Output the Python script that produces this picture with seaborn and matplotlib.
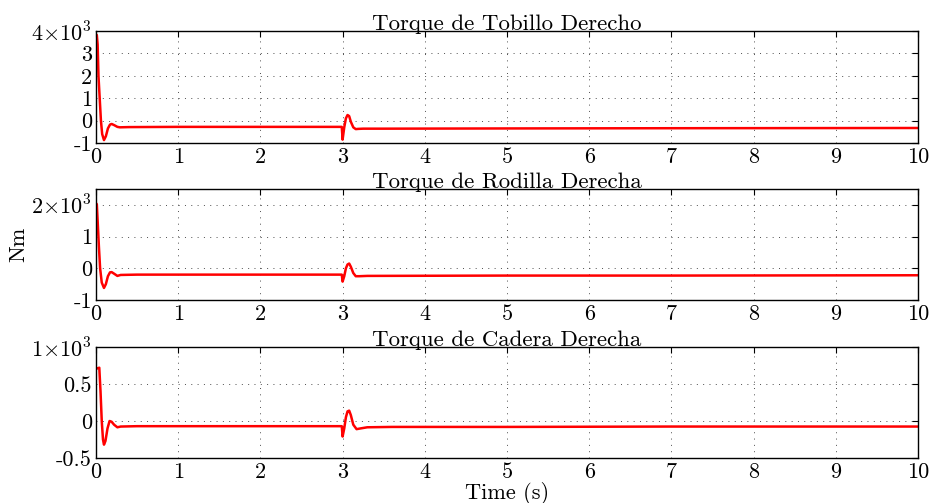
import numpy as np
import pandas as pd
import matplotlib
matplotlib.use("Agg")
import matplotlib.pyplot as plt
import seaborn as sns

# Joint torque samples (time in s, torque in units of 10^3 Nm)
t_ankle = [0.0, 0.01, 0.02, 0.03, 0.045, 0.06, 0.075, 0.097, 0.12, 0.145, 0.17, 0.19,
           0.22, 0.26, 0.29, 0.4, 1.0, 2.0, 2.99, 3.0, 3.02, 3.04, 3.06, 3.08, 3.1,
           3.13, 3.16, 3.19, 3.25, 3.5, 5.0, 7.0, 10.0]
v_ankle = [3.8, 3.82, 3.4, 2.0, 1.0, 0.0, -0.6, -0.87, -0.7, -0.35, -0.18, -0.15,
           -0.2, -0.28, -0.3, -0.29, -0.28, -0.28, -0.28, -0.85, -0.3, 0.1, 0.25, 0.2,
           -0.05, -0.3, -0.38, -0.37, -0.36, -0.36, -0.35, -0.34, -0.33]

t_knee = [0.0, 0.01, 0.02, 0.035, 0.05, 0.07, 0.097, 0.12, 0.145, 0.17, 0.19,
          0.22, 0.26, 0.3, 0.5, 1.0, 2.0, 2.99, 3.0, 3.02, 3.04, 3.06, 3.08, 3.1,
          3.13, 3.16, 3.2, 3.3, 5.0, 7.0, 10.0]
v_knee = [2.05, 2.02, 1.5, 0.7, 0.0, -0.45, -0.62, -0.5, -0.25, -0.13, -0.12,
          -0.17, -0.24, -0.21, -0.2, -0.2, -0.2, -0.2, -0.42, -0.25, 0.0, 0.12, 0.15,
          0.05, -0.15, -0.25, -0.25, -0.24, -0.23, -0.23, -0.22]

t_hip = [0.0, 0.01, 0.04, 0.055, 0.07, 0.085, 0.097, 0.115, 0.14, 0.165, 0.19,
         0.22, 0.26, 0.3, 0.5, 1.0, 2.0, 2.99, 3.0, 3.02, 3.04, 3.06, 3.08, 3.1,
         3.13, 3.17, 3.22, 3.3, 3.6, 5.0, 7.0, 10.0]
v_hip = [0.7, 0.71, 0.72, 0.4, 0.0, -0.25, -0.32, -0.27, -0.1, 0.0, -0.01,
         -0.05, -0.085, -0.075, -0.07, -0.07, -0.07, -0.07, -0.21, -0.1, 0.05, 0.13, 0.14,
         0.08, -0.05, -0.11, -0.1, -0.085, -0.08, -0.08, -0.075, -0.075]

titles = ["Torque de Tobillo Derecho", "Torque de Rodilla Derecha", "Torque de Cadera Derecha"]
x_ticks = list(range(0, 11))
y_ticks = [[-1, 0, 1, 2, 3, 4], [-1, 0, 1, 2], [-0.5, 0, 0.5, 1]]
y_ticklabels = [["-1", "0", "1", "2", "3", r"$4{\times}10^3$"],
                ["-1", "0", "1", r"$2{\times}10^3$"],
                ["-0.5", "0", "0.5", r"$1{\times}10^3$"]]
y_limits = [(-1, 4), (-1, 2.5), (-0.5, 1)]

sns.set_style("white")
plt.rcParams["font.family"] = ["cmr10", "DejaVu Serif"]
plt.rcParams["mathtext.fontset"] = "cm"
plt.rcParams["axes.unicode_minus"] = False
plt.rcParams["text.color"] = "black"
plt.rcParams["axes.labelcolor"] = "black"

fig = plt.figure(figsize=(9.31, 5.03), dpi=100)
W, H = 931, 503
boxes = [(31, 143), (189, 300), (347, 458)]
series = [(t_ankle, v_ankle), (t_knee, v_knee), (t_hip, v_hip)]

for i, ((top, bot), (tt, vv)) in enumerate(zip(boxes, series)):
    ax = fig.add_axes([96 / W, 1 - bot / H, (918 - 96) / W, (bot - top) / H])
    df = pd.DataFrame({"t": tt, "v": vv})
    sns.lineplot(data=df, x="t", y="v", ax=ax, color="#ff0000", linewidth=1.8,
                 estimator=None, sort=False)
    ax.set_xlim(0, 10)
    ax.set_ylim(*y_limits[i])
    ax.set_xticks(x_ticks)
    ax.set_xticklabels([str(x) for x in x_ticks])
    ax.set_yticks(y_ticks[i])
    ax.set_yticklabels(y_ticklabels[i])
    ax.grid(True, color="0.3", linestyle=(0, (1, 5.5)), linewidth=0.7)
    ax.tick_params(direction="in", length=4, width=0.8, top=True, right=True,
                   labelsize=16, pad=3, colors="black")
    for s in ax.spines.values():
        s.set_visible(True)
        s.set_color("black")
        s.set_linewidth(1.0)
    ax.set_title(titles[i], fontsize=16.5, pad=1, color="black")
    ax.set_xlabel("")
    ax.set_ylabel("")
    if i == 1:
        ax.set_ylabel("Nm", fontsize=16, labelpad=2)
    if i == 2:
        ax.set_xlabel("Time (s)", fontsize=16, labelpad=0)

fig.savefig("out.png", dpi=100, facecolor="white")
